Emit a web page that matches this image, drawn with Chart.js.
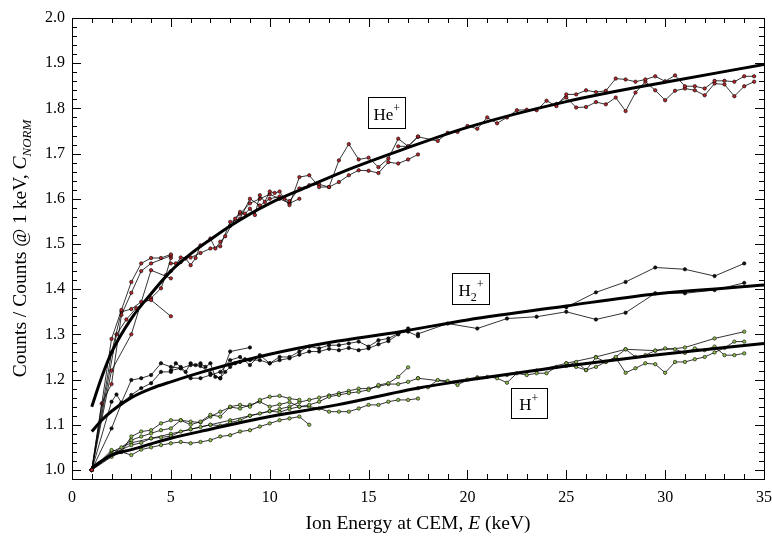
<!DOCTYPE html>
<html>
<head>
<meta charset="utf-8">
<script src="https://cdn.jsdelivr.net/npm/chart.js@4.4.0/dist/chart.umd.min.js"></script>
<style>
  html, body { margin: 0; padding: 0; background: #fff; }
  #wrap { width: 772px; height: 538px; }
</style>
</head>
<body>
<div id="wrap"><canvas id="chart" width="772" height="538"></canvas></div>
<script>
// --- fitted curves ---
const heFitE = [1, 1.5, 2, 3, 4, 5, 6, 7, 8, 10, 12, 14, 16.6, 20, 25, 30, 35];
const heFitY = [1.14, 1.205, 1.26, 1.335, 1.39, 1.44, 1.478, 1.51, 1.54, 1.59, 1.628, 1.665, 1.707, 1.758, 1.815, 1.858, 1.897];
const h2FitE = [1, 1.5, 2, 3, 4, 5, 7, 10, 13, 16.6, 20, 25, 29.4, 35];
const h2FitY = [1.085, 1.11, 1.13, 1.16, 1.18, 1.195, 1.222, 1.256, 1.282, 1.306, 1.332, 1.363, 1.389, 1.409];
const hFitE = [1, 1.5, 2, 3, 5, 7, 9.5, 13.4, 17.6, 21, 25, 29.4, 35];
const hFitY = [1.005, 1.02, 1.033, 1.045, 1.07, 1.09, 1.114, 1.144, 1.182, 1.205, 1.23, 1.254, 1.28];

// --- He+ measured runs [E keV, C_NORM] ---
const heRunS1 = [[1,1.0],[2,1.29],[2.5,1.354],[3,1.416],[3.5,1.457],[4,1.469],[4.5,1.469],[5,1.477]];
const heRunS2 = [[1,1.0],[1.5,1.147],[2,1.19],[2.5,1.343],[3,1.392],[3.5,1.44],[4,1.457],[5,1.474]];
const heRunS3 = [[1,1.0],[2,1.26],[2.5,1.35],[3,1.356],[3.5,1.372],[4,1.376],[5,1.34]];
const heRunS4 = [[1,1.0],[2.25,1.30],[2.75,1.333],[3.25,1.358],[4,1.38],[4.5,1.402],[4.75,1.431],[5,1.469]];
const heRunS5 = [[1,1.0],[2,1.22],[3,1.30],[4,1.442],[5,1.424]];
const heRunL1 = [[5,1.457],[5.25,1.457],[5.5,1.46],[5.75,1.468],[6,1.453],[6.25,1.469],[6.5,1.497],[7,1.512],[7.25,1.49],[7.5,1.505],[7.75,1.517],[8.25,1.556],[8.5,1.571],[8.75,1.567],[9,1.578],[9.25,1.564],[9.5,1.608],[9.75,1.593],[10,1.616],[10.25,1.613],[10.5,1.616],[10.75,1.6],[11,1.586],[11.5,1.648],[12,1.652],[12.5,1.626],[13,1.626],[13.5,1.685],[14,1.721],[14.5,1.687],[15,1.691],[15.5,1.67],[16,1.689],[16.5,1.733],[17,1.716],[17.5,1.738]];
const heRunL2 = [[5,1.44],[5.5,1.47],[6,1.47],[6.5,1.48],[7,1.49],[7.5,1.495],[8,1.549],[8.5,1.556],[9,1.60],[9.5,1.585],[10,1.60],[10.5,1.605],[11,1.595],[11.5,1.623],[12,1.63],[12.5,1.632],[13,1.626],[13.5,1.637],[14,1.652],[14.5,1.663],[15,1.662],[15.5,1.657],[16,1.681],[16.5,1.678],[17,1.687],[17.5,1.698]];
const heRunL3 = [[8,1.54],[8.5,1.567],[9,1.59],[9.5,1.60],[10,1.61],[10.5,1.60],[11,1.59],[11.5,1.60]];
const heRunH1 = [[16.5,1.716],[17,1.716],[17.5,1.737],[18.5,1.728],[19,1.746],[19.5,1.748],[20,1.761],[20.5,1.755],[21,1.78],[21.5,1.767],[22,1.78],[22.5,1.796],[23,1.797],[23.5,1.796],[24,1.817],[24.5,1.805],[25,1.831],[25.5,1.831],[26,1.84],[26.5,1.836],[27,1.839],[27.5,1.866],[28,1.864],[28.5,1.859],[29,1.864],[29.5,1.871],[30,1.86],[30.5,1.873],[31,1.849],[31.5,1.849],[32,1.844],[32.5,1.861],[33,1.861],[33.5,1.859],[34,1.871],[34.5,1.871]];
const heRunH2 = [[24.5,1.81],[25,1.824],[25.5,1.802],[26,1.803],[26.5,1.814],[27,1.809],[27.5,1.824],[28,1.794],[28.5,1.835],[29,1.859],[29.5,1.84],[30,1.818],[30.5,1.839],[31,1.844],[31.5,1.84],[32,1.829],[32.5,1.855],[33,1.853],[33.5,1.827],[34,1.849],[34.5,1.859]];

// --- H2+ measured runs ---
const h2RunA = [[1,1.0],[2,1.151],[2.25,1.167],[2.5,1.149],[3,1.199],[3.5,1.203],[4,1.21],[4.5,1.236],[5,1.228],[5.5,1.225],[6,1.232],[6.5,1.23],[7,1.214],[7.5,1.203],[8,1.262],[9,1.271]];
const h2RunB = [[1,1.0],[2,1.092],[2.5,1.147],[3,1.166],[3.5,1.181],[4,1.192],[4.5,1.217],[5,1.217],[5.25,1.236],[5.5,1.228],[5.75,1.217],[6,1.236],[6.25,1.232],[6.5,1.236],[6.75,1.228],[7,1.236],[7.25,1.206],[7.5,1.203],[7.75,1.217],[8,1.228],[8.25,1.236],[8.5,1.239],[8.75,1.245]];
const h2RunC = [[5,1.22],[5.5,1.225],[6,1.203],[6.5,1.203],[7,1.21],[7.5,1.217],[8,1.243],[8.5,1.25],[9,1.232],[9.5,1.254],[10,1.236],[10.5,1.25],[11,1.25],[11.5,1.262],[12,1.273],[12.5,1.269],[13,1.276],[13.5,1.276],[14,1.28],[14.5,1.284],[15,1.273],[15.5,1.287],[16,1.291],[16.5,1.302],[17,1.306],[17.5,1.296]];
const h2RunD = [[9,1.243],[9.5,1.243],[10,1.236],[10.5,1.243],[11,1.247],[11.5,1.255],[12,1.262],[12.5,1.262],[13,1.268],[13.5,1.265],[14,1.27],[14.5,1.265],[15,1.269],[15.5,1.278],[16,1.285],[16.5,1.30],[17,1.313]];
const h2RunE = [[17.5,1.301],[19,1.324],[20.5,1.313],[22,1.335],[23.5,1.339],[25,1.35],[26.5,1.333],[28,1.348],[29.5,1.391],[31,1.391],[32.5,1.398],[34,1.414]];
const h2RunF = [[25,1.36],[26.5,1.393],[28,1.416],[29.5,1.448],[31,1.444],[32.5,1.429],[34,1.457]];

// --- H+ measured runs ---
const hRun1 = [[1,1.0],[2,1.044],[2.5,1.04],[3,1.074],[3.5,1.085],[4,1.088],[4.5,1.103],[5,1.11],[5.5,1.11],[6,1.10],[6.5,1.107],[7,1.122],[7.5,1.118],[8,1.14],[8.5,1.144],[9,1.14],[9.5,1.155],[10,1.162],[10.5,1.164],[11,1.158],[11.5,1.155]];
const hRun2 = [[1,1.0],[2,1.033],[2.5,1.05],[3,1.066],[3.5,1.074],[4,1.081],[4.5,1.088],[5,1.092],[5.5,1.11],[6,1.107],[6.5,1.105],[7,1.118],[7.5,1.129],[8,1.139],[8.5,1.136],[9,1.144],[9.5,1.151],[10,1.14],[10.5,1.145],[11,1.15],[11.5,1.14],[12,1.144],[12.5,1.151],[13,1.162],[13.5,1.166],[14,1.17],[14.5,1.173],[15,1.177],[15.5,1.188],[16,1.192],[16.5,1.206],[17,1.227]];
const hRun3 = [[1,1.0],[2,1.029],[2.5,1.04],[3,1.033],[3.5,1.045],[4,1.05],[4.5,1.055],[5,1.059],[5.5,1.062],[6,1.059],[6.5,1.062],[7,1.066],[7.5,1.074],[8,1.077],[8.5,1.085],[9,1.088],[9.5,1.096],[10,1.103],[10.5,1.11],[11,1.114],[11.5,1.118],[12,1.1]];
const hRun4 = [[1,1.0],[2,1.035],[3,1.055],[3.5,1.06],[4,1.07],[4.5,1.072],[5,1.075],[5.5,1.085],[6,1.09],[6.5,1.095],[7,1.10],[7.5,1.098],[8,1.105],[8.5,1.11],[9,1.12],[9.5,1.125],[10,1.13],[10.5,1.128],[11,1.135],[11.5,1.14],[12,1.14],[12.5,1.136],[13,1.129],[13.5,1.129],[14,1.129],[14.5,1.136],[15,1.144],[15.5,1.144],[16,1.151],[16.5,1.155],[17,1.155],[17.5,1.158]];
const hRun5 = [[1,1.0],[2,1.04],[3,1.06],[4,1.07],[5,1.08],[6,1.09],[7,1.10],[8,1.11],[9,1.12],[10,1.13],[10.5,1.135],[11,1.14],[11.5,1.15],[12,1.155],[12.5,1.16],[13,1.165],[13.5,1.17],[14,1.175],[14.5,1.18],[15,1.18],[15.5,1.185],[16,1.19],[16.5,1.19],[17,1.195],[17.5,1.203]];
const hRun6 = [[17.5,1.181],[18,1.183],[18.5,1.199],[19,1.197],[19.5,1.188],[20,1.2],[20.5,1.203],[21,1.206],[21.5,1.203],[22,1.193],[22.5,1.214],[23,1.21],[23.5,1.214],[24,1.214],[24.5,1.228],[25,1.23],[25.5,1.239],[26,1.221],[26.5,1.249],[27,1.239],[27.5,1.25],[28,1.267],[28.5,1.25],[29,1.254],[29.5,1.264],[30,1.269],[30.5,1.267],[31,1.259],[31.5,1.269],[32,1.265],[32.5,1.273],[33,1.254],[33.5,1.254],[34,1.258]];
const hRun7 = [[17.5,1.203],[19,1.195],[20.5,1.205],[22,1.21],[23.5,1.22],[25,1.236],[26.5,1.25],[28,1.267],[29.5,1.264],[31,1.271],[32.5,1.291],[34,1.306]];
const hRun8 = [[25,1.236],[25.5,1.228],[26,1.221],[26.5,1.228],[27,1.239],[27.5,1.248],[28,1.215],[28.5,1.225],[29,1.236],[29.5,1.234],[30,1.215],[30.5,1.239],[31,1.239],[31.5,1.245],[32,1.25],[32.5,1.26],[33,1.27],[33.5,1.284],[34,1.284]];

const heRuns = [heRunS1, heRunS2, heRunS3, heRunS4, heRunS5, heRunL1, heRunL2, heRunL3, heRunH1, heRunH2];
const h2Runs = [h2RunA, h2RunB, h2RunC, h2RunD, h2RunE, h2RunF];
const hRuns = [hRun1, hRun2, hRun3, hRun4, hRun5, hRun6, hRun7, hRun8];

// axis ticks
const xTickValues = [0, 5, 10, 15, 20, 25, 30, 35];
const yTickValues = [1.0, 1.1, 1.2, 1.3, 1.4, 1.5, 1.6, 1.7, 1.8, 1.9, 2.0];
const yTickLabels = ['1.0', '1.1', '1.2', '1.3', '1.4', '1.5', '1.6', '1.7', '1.8', '1.9', '2.0'];

const SERIF = '"Liberation Serif", "Times New Roman", serif';

function runSet(points, fill) {
    return {
        data: points.map(p => ({ x: p[0], y: p[1] })),
        showLine: true,
        borderColor: '#000',
        borderWidth: 0.8,
        pointRadius: 1.7,
        pointBackgroundColor: fill,
        pointBorderColor: '#000',
        pointBorderWidth: 0.6,
        tension: 0,
        order: 1
    };
}

function fitSet(e, y) {
    return {
        data: e.map((v, i) => ({ x: v, y: y[i] })),
        showLine: true,
        borderColor: '#000',
        borderWidth: 3,
        pointRadius: 0,
        cubicInterpolationMode: 'monotone',
        order: 0
    };
}

// draw a sequence of text pieces [text, fontSize, dy, italic], centred on x
function drawParts(ctx, parts, x, y) {
    let w = 0;
    parts.forEach(p => { ctx.font = (p[3] ? 'italic ' : '') + p[1] + 'px ' + SERIF; w += ctx.measureText(p[0]).width; });
    let cx = x - w / 2;
    parts.forEach(p => {
        ctx.font = (p[3] ? 'italic ' : '') + p[1] + 'px ' + SERIF;
        ctx.fillText(p[0], cx, y + (p[2] || 0));
        cx += ctx.measureText(p[0]).width;
    });
}

const seriesLabels = [
    { e: 15.92, v: 1.79, w: 37, h: 31, parts: [['He', 17, 0], ['+', 12, -8]] },
    { e: 20.18, v: 1.401, w: 37, h: 31, parts: [['H', 17, 0], ['2', 12, 5], ['+', 12, -8]] },
    { e: 23.1, v: 1.148, w: 36, h: 30, parts: [['H', 17, 0], ['+', 12, -8]] }
];

const axesPlugin = {
    id: 'axesPlugin',
    afterDatasetsDraw(chart) {
        const ctx = chart.ctx;
        const { left, right, top, bottom } = chart.chartArea;
        const xs = chart.scales.x, ys = chart.scales.y;
        ctx.save();
        ctx.strokeStyle = '#000';
        ctx.lineWidth = 1;
        ctx.strokeRect(left + 0.5, top + 0.5, right - left, bottom - top);

        // inward ticks on all four sides
        ctx.beginPath();
        for (let v = 0; v <= 35; v++) {
            const px = Math.round(xs.getPixelForValue(v)) + 0.5;
            const len = v % 5 === 0 ? 9 : 5;
            ctx.moveTo(px, bottom); ctx.lineTo(px, bottom - len);
            ctx.moveTo(px, top); ctx.lineTo(px, top + len);
        }
        for (let i = 0; i <= 51; i++) {
            const v = 0.98 + i * 0.02;
            const py = Math.round(ys.getPixelForValue(v)) + 0.5;
            const len = Math.round(v * 100) % 10 === 0 ? 9 : 5;
            ctx.moveTo(left, py); ctx.lineTo(left + len, py);
            ctx.moveTo(right, py); ctx.lineTo(right - len, py);
        }
        ctx.stroke();

        // tick labels
        ctx.fillStyle = '#000';
        ctx.font = '16px ' + SERIF;
        ctx.textAlign = 'center';
        ctx.textBaseline = 'alphabetic';
        xTickValues.forEach(v => ctx.fillText(String(v), xs.getPixelForValue(v), 502));
        ctx.textAlign = 'right';
        ctx.textBaseline = 'middle';
        yTickValues.forEach((v, i) => ctx.fillText(yTickLabels[i], left - 7, ys.getPixelForValue(v)));

        // axis titles
        ctx.textAlign = 'left';
        ctx.textBaseline = 'alphabetic';
        drawParts(ctx, [['Ion Energy at CEM, ', 19.5], ['E', 19.5, 0, true], [' (keV)', 19.5]], (left + right) / 2, 529);
        ctx.save();
        ctx.translate(26, (top + bottom) / 2);
        ctx.rotate(-Math.PI / 2);
        drawParts(ctx, [['Counts / Counts @ 1 keV, ', 19.5], ['C', 19.5, 0, true], ['NORM', 13, 5, true]], 0, 0);
        ctx.restore();

        // boxed series labels
        seriesLabels.forEach(l => {
            const cx = xs.getPixelForValue(l.e), cy = ys.getPixelForValue(l.v);
            ctx.fillStyle = '#fff';
            ctx.fillRect(cx - l.w / 2, cy - l.h / 2, l.w, l.h);
            ctx.strokeRect(Math.round(cx - l.w / 2) + 0.5, Math.round(cy - l.h / 2) + 0.5, l.w, l.h);
            ctx.fillStyle = '#000';
            drawParts(ctx, l.parts, cx, cy + 7);
        });
        ctx.restore();
    }
};

const datasets = [
    fitSet(heFitE, heFitY),
    fitSet(h2FitE, h2FitY),
    fitSet(hFitE, hFitY)
];
heRuns.forEach(r => datasets.push(runSet(r, '#b5262b')));
h2Runs.forEach(r => datasets.push(runSet(r, '#111')));
hRuns.forEach(r => datasets.push(runSet(r, '#8cbc4a')));

new Chart(document.getElementById('chart'), {
    type: 'scatter',
    data: { datasets: datasets },
    options: {
        responsive: false,
        animation: false,
        layout: { padding: { left: 72, top: 18, right: 8, bottom: 59 } },
        plugins: { legend: { display: false }, tooltip: { enabled: false } },
        scales: {
            x: { type: 'linear', min: 0, max: 35, display: false },
            y: { type: 'linear', min: 0.98, max: 2.0, display: false }
        }
    },
    plugins: [axesPlugin]
});
</script>
</body>
</html>
